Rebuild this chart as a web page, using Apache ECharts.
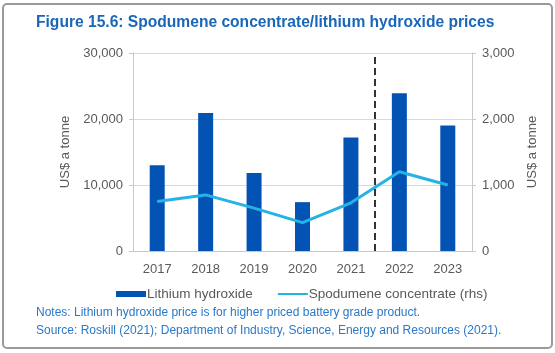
<!DOCTYPE html>
<html>
<head>
<meta charset="utf-8">
<script src="https://cdn.jsdelivr.net/npm/echarts@6/dist/echarts.min.js"></script>
<style>
  html, body { margin: 0; padding: 0; background: #fff; }
  #frame {
    position: absolute; left: 2px; top: 3px; width: 547px; height: 342px;
    border: 2px solid #9a9a9a; border-radius: 5px;
  }
  #chart { position: absolute; left: 0; top: 0; width: 555px; height: 353px; }
</style>
</head>
<body>
<div id="frame"></div>
<div id="chart"></div>
<script>
const years = ['2017', '2018', '2019', '2020', '2021', '2022', '2023'];
const lithiumHydroxide = [13000, 20900, 11800, 7400, 17200, 23900, 19000];
const spodumene = [750, 850, 650, 430, 730, 1200, 1000];
const forecastStart = 5; // boundary between 2021 and 2022

const labelColor = '#595959';
const axisLineColor = '#c8c8c8';

const chart = echarts.init(document.getElementById('chart'), null, { renderer: 'canvas' });

chart.setOption({
  animation: false,
  textStyle: { fontFamily: 'Liberation Sans, Arial, sans-serif' },
  title: [
    {
      text: 'Figure 15.6: Spodumene concentrate/lithium hydroxide prices',
      left: 31, top: 10,
      textStyle: { color: '#1a66b8', fontSize: 15.6, fontWeight: 'bold' }
    },
    {
      text: 'Notes: Lithium hydroxide price is for higher priced battery grade product.',
      left: 31, top: 302,
      textStyle: { color: '#2a78c8', fontSize: 12, fontWeight: 'normal' }
    },
    {
      text: 'Source: Roskill (2021); Department of Industry, Science, Energy and Resources (2021).',
      left: 31, top: 320,
      textStyle: { color: '#2a78c8', fontSize: 12, fontWeight: 'normal' }
    }
  ],
  legend: {
    data: [
      { name: 'Lithium hydroxide', icon: 'rect' },
      { name: 'Spodumene concentrate (rhs)', itemStyle: { opacity: 0 } }
    ],
    left: 111, top: 282,
    itemWidth: 30, itemHeight: 6, itemGap: 24,
    textStyle: { color: labelColor, fontSize: 13.5, padding: [0, 0, 0, -4] }
  },
  grid: { left: 133, right: 83, top: 53, bottom: 102 },
  xAxis: [
    {
      type: 'category',
      data: years,
      axisLine: { lineStyle: { color: axisLineColor } },
      axisTick: { length: 4, lineStyle: { color: axisLineColor } },
      axisLabel: { color: labelColor, fontSize: 13, margin: 12 }
    },
    { type: 'value', min: 0, max: years.length, show: false }
  ],
  yAxis: [
    {
      type: 'value', min: 0, max: 30000, interval: 10000,
      name: 'US$ a tonne', nameLocation: 'middle', nameGap: 60, nameRotate: 90,
      nameTextStyle: { color: labelColor, fontSize: 13 },
      axisLine: { show: true, lineStyle: { color: axisLineColor } },
      axisTick: { show: true, length: 4, lineStyle: { color: axisLineColor } },
      axisLabel: {
        color: labelColor, fontSize: 13, margin: 10,
        formatter: v => v.toLocaleString('en-US')
      },
      splitLine: { lineStyle: { color: '#d9d9d9' } }
    },
    {
      type: 'value', min: 0, max: 3000, interval: 1000,
      name: 'US$ a tonne', nameLocation: 'middle', nameGap: 47, nameRotate: 90,
      nameTextStyle: { color: labelColor, fontSize: 13 },
      axisLine: { show: true, lineStyle: { color: axisLineColor } },
      axisTick: { show: true, length: 4, lineStyle: { color: axisLineColor } },
      axisLabel: {
        color: labelColor, fontSize: 13, margin: 10,
        formatter: v => v.toLocaleString('en-US')
      },
      splitLine: { show: false }
    }
  ],
  series: [
    {
      name: 'Lithium hydroxide',
      type: 'bar',
      data: lithiumHydroxide,
      barWidth: 15,
      itemStyle: { color: '#0353b5' }
    },
    {
      name: 'Spodumene concentrate (rhs)',
      type: 'line',
      yAxisIndex: 1,
      data: spodumene,
      symbol: 'none',
      lineStyle: { color: '#25b3e5', width: 3 },
      itemStyle: { color: '#25b3e5' }
    },
    {
      name: 'forecast',
      type: 'line',
      xAxisIndex: 1,
      data: [],
      markLine: {
        silent: true,
        symbol: 'none',
        label: { show: false },
        lineStyle: { color: '#333', width: 2, type: [7, 4] },
        data: [{ xAxis: forecastStart }]
      }
    }
  ]
});
</script>
</body>
</html>
